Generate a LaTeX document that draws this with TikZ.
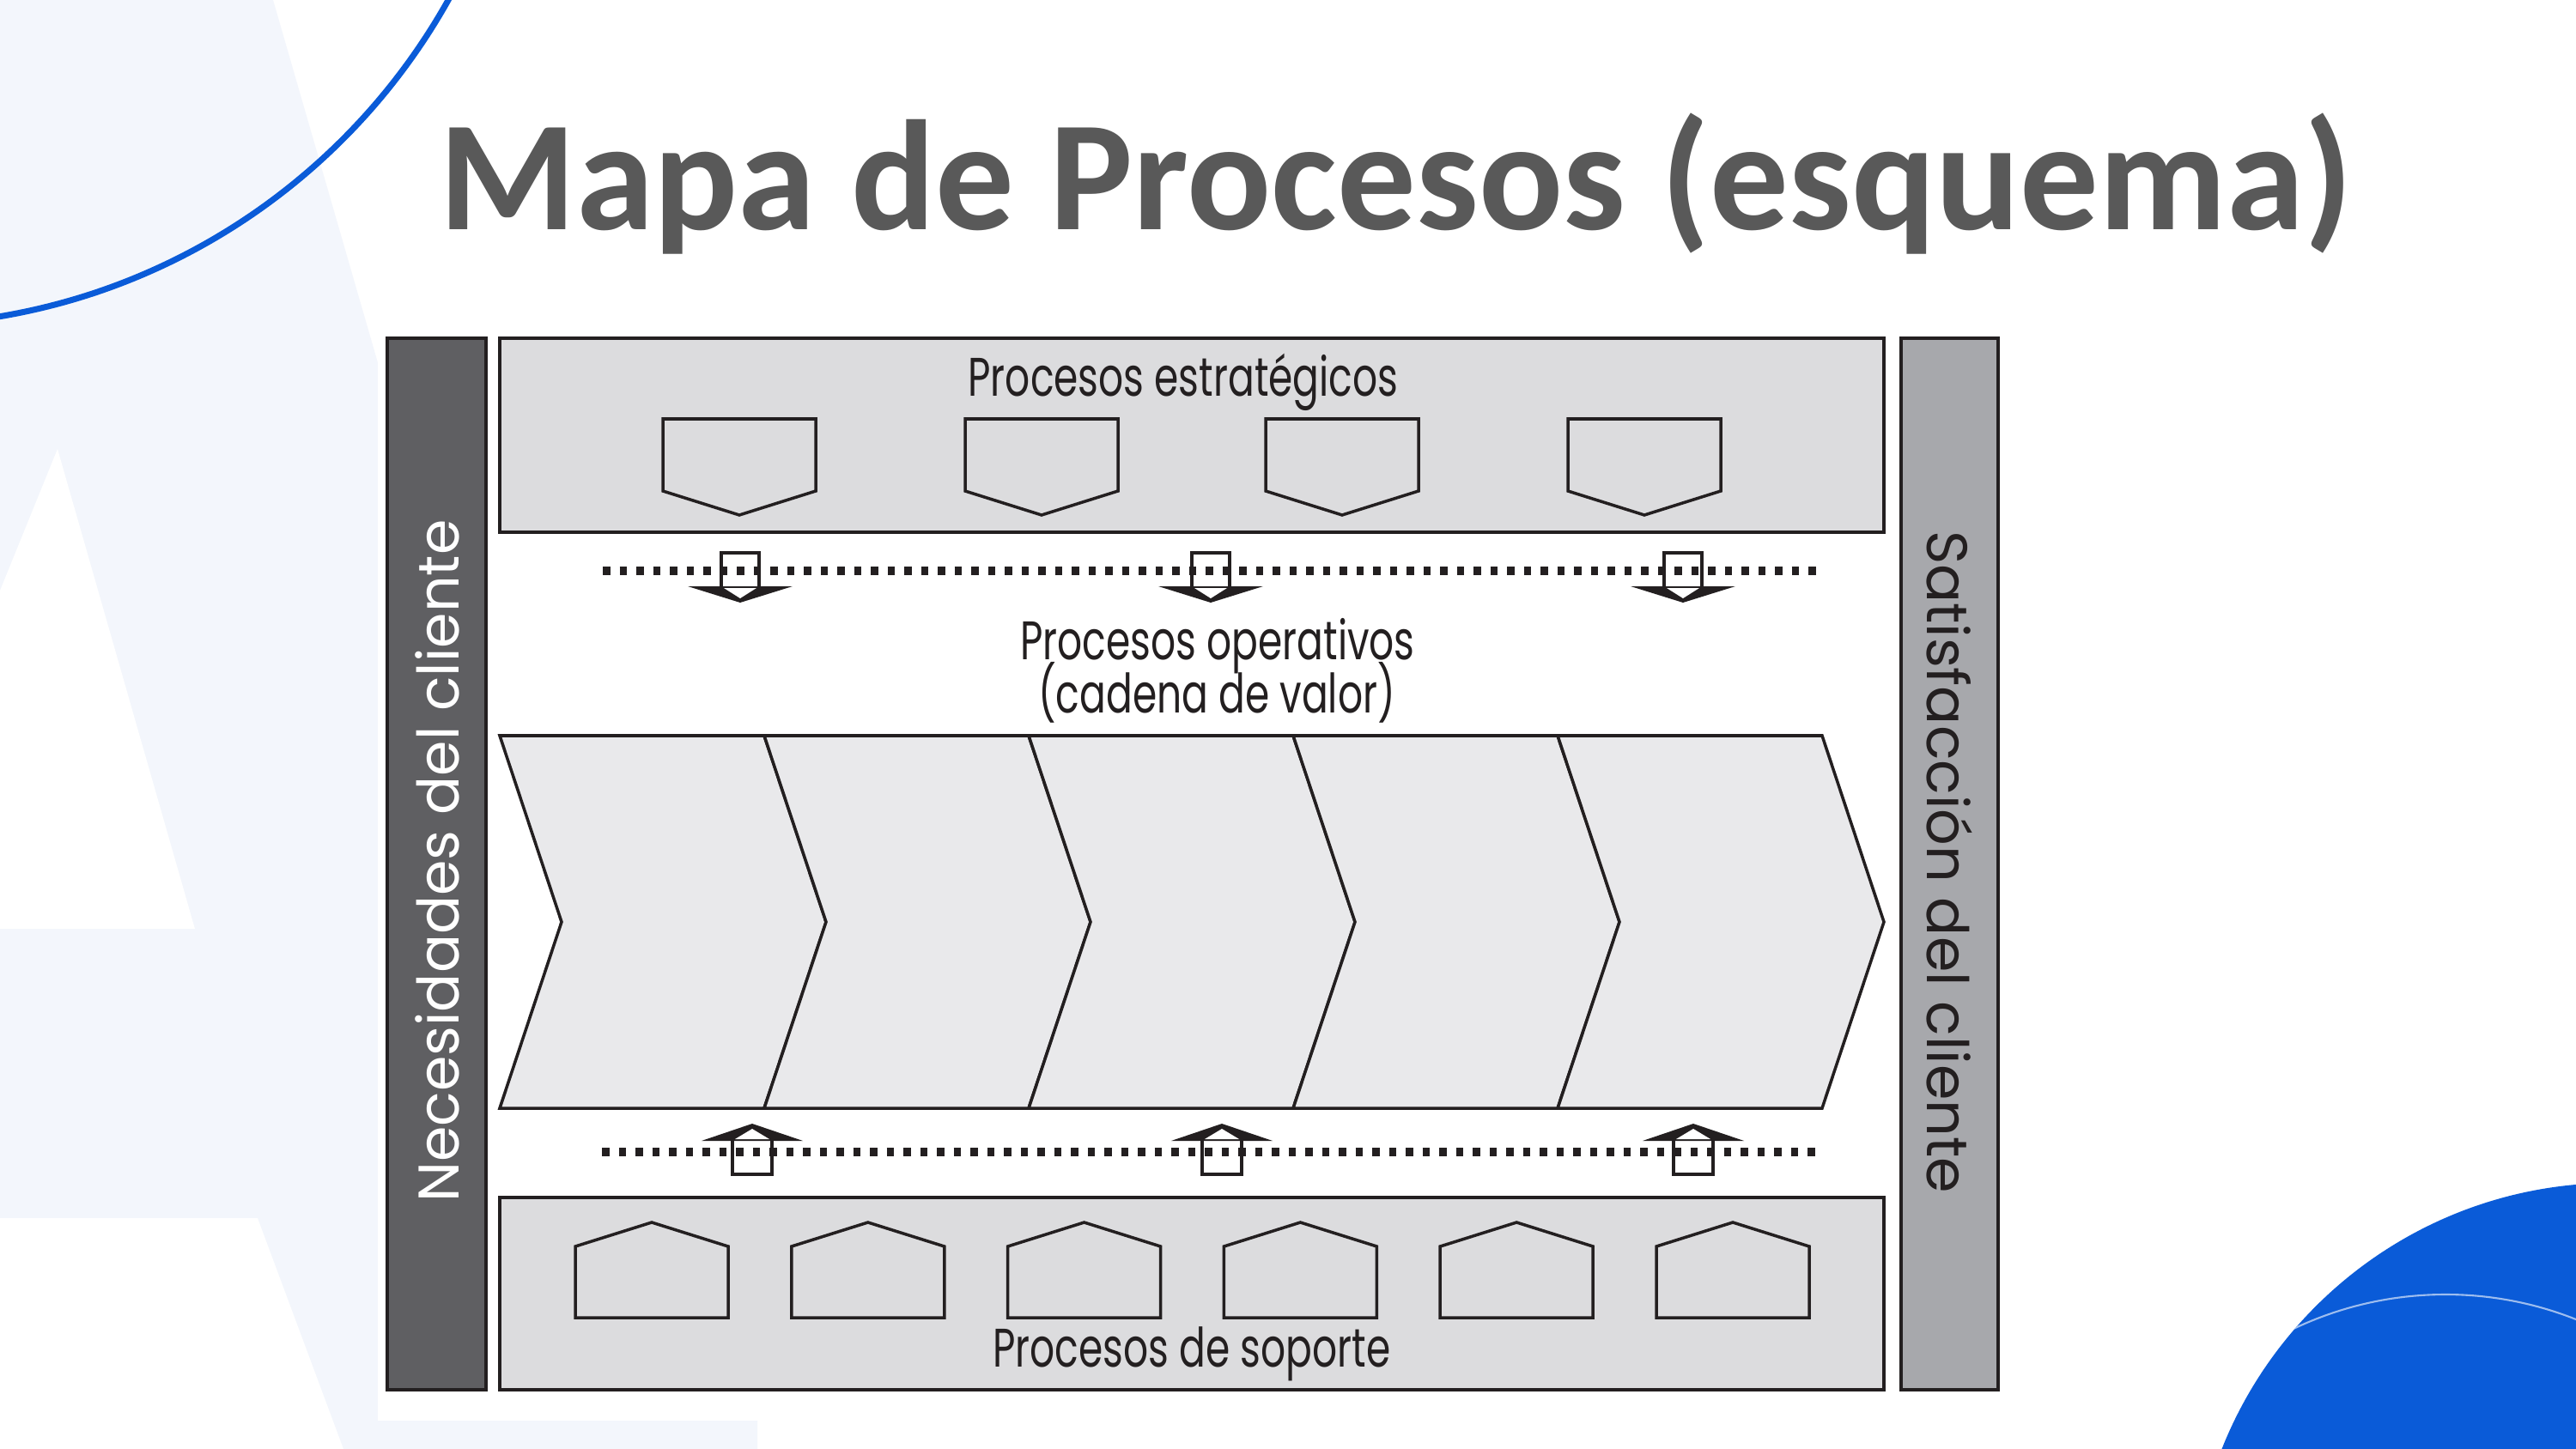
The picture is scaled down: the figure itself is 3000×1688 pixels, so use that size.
\documentclass[tikz,border=0pt]{standalone}
\usepackage{fontspec}
\setmainfont{PT Sans}
\newfontfamily\titlefont{Carlito}
\newfontfamily\gothicfont{Poppins}
\newfontfamily\condfont[FakeStretch=0.72]{Poppins}
\usetikzlibrary{positioning}
\definecolor{slideblue}{HTML}{0A5BD8}
\definecolor{wmblue}{HTML}{F3F6FC}
\definecolor{titlegray}{HTML}{595959}
\definecolor{bardark}{HTML}{5F5F62}
\definecolor{barlight}{HTML}{A7A8AC}
\definecolor{boxgray}{HTML}{DCDCDE}
\definecolor{chevgray}{HTML}{E9E9EB}
\definecolor{inkgray}{HTML}{231F20}

\begin{document}
\begin{tikzpicture}[x=0.1mm, y=-0.1mm,
  procbox/.style={draw=inkgray, fill=boxgray, line width=1.3pt},
  sidebar/.style={draw=inkgray, line width=1.3pt},
  pent/.style={draw=inkgray, fill=boxgray, line width=1pt, line join=miter},
  chev/.style={draw=inkgray, fill=chevgray, line width=1pt, line join=miter},
  dotline/.style={draw=inkgray, line width=1mm, dash pattern=on 0.85mm off 1.1mm},
  shaft/.style={draw=inkgray, line width=1pt, line join=miter},
  lbl/.style={anchor=base, inner sep=0pt, text=inkgray, font=\condfont\fontsize{18}{18}\selectfont},
  barlbl/.style={inner sep=0pt, font=\gothicfont\fontsize{19}{20}\selectfont}]
\useasboundingbox (0,0) rectangle (3000,1688);
\begin{scope}
\clip (0,0) rectangle (3000,1688);
\fill[white] (0,0) rectangle (3000,1688);
\fill[wmblue] (0,0) -- (318,0) -- (445,440) -- (445,1655) -- (882,1655) -- (882,1688) -- (0,1688) -- cycle;
\fill[white] (0,688) -- (67,523) -- (227,1082) -- (0,1082) -- cycle;
\fill[white] (0,1419) -- (300,1419) -- (400,1688) -- (0,1688) -- cycle;
\draw[slideblue, line width=2pt] (-124,-361) circle [radius=74mm];
\fill[slideblue] (3044,1869) circle [radius=49.1mm];
\begin{scope}
\clip (3044,1869) circle [radius=49.1mm];
\draw[white!60!slideblue, line width=0.6pt] (2848,1919) circle [radius=41.1mm];
\end{scope}
\end{scope}

\node[anchor=base, inner sep=0pt, text=titlegray, font=\titlefont\bfseries\fontsize{52}{60}\selectfont] (titulo) at (1626,268) {Mapa de Procesos (esquema)};

\fill[white] (440,380) rectangle (2345,1655);
\draw[sidebar, fill=bardark] (451,394) rectangle (566,1619);
\draw[sidebar, fill=barlight] (2214,394) rectangle (2327,1619);
\node[barlbl, rotate=90, text=white] (necesidades) at (509,1003) {Necesidades del cliente};
\node[barlbl, rotate=-90, text=inkgray] (satisfaccion) at (2271,1004) {Satisfacción del cliente};

\draw[procbox] (582,394) rectangle (2194,620);
\draw[procbox] (582,1395) rectangle (2194,1619);
\node[lbl] (estrategicos) at (1378,462) {Procesos estratégicos};
\node[lbl] (soporte) at (1388,1592) {Procesos de soporte};
\node[lbl] (operativos) at (1418,768) {Procesos operativos};
\node[lbl] (cadena) at (1417,830) {(cadena de valor)};

\foreach \cx in {861,1213,1563,1915}
  \draw[pent] (\cx-89,488) -- (\cx+89,488) -- (\cx+89,572) -- (\cx,600) -- (\cx-89,572) -- cycle;
\foreach \i in {0,...,5}
  \draw[pent] (670+251.8*\i,1535) -- (848+251.8*\i,1535) -- (848+251.8*\i,1452) -- (759+251.8*\i,1424) -- (670+251.8*\i,1452) -- cycle;

\foreach \i in {0,...,4}
  \draw[chev] (582+308*\i,857) -- (890+308*\i,857) -- (962+308*\i,1074) -- (890+308*\i,1291) -- (582+308*\i,1291) -- (654+308*\i,1074) -- cycle;

\draw[dotline] (702,665) -- (2120,665);
\draw[dotline] (701,1342) -- (2120,1342);
\foreach \cx in {862,1410,1960} {
  \fill[inkgray] (\cx-61,683) -- (\cx+61,683) -- (\cx,702) -- cycle;
  \fill[white] (\cx-19,685) -- (\cx+19,685) -- (\cx,697) -- cycle;
  \draw[shaft] (\cx-22,686) -- (\cx-22,644) -- (\cx+22,644) -- (\cx+22,686);
}
\foreach \cx in {876,1423,1972} {
  \fill[inkgray] (\cx-59,1329) -- (\cx+59,1329) -- (\cx,1309) -- cycle;
  \fill[white] (\cx-20,1327) -- (\cx+20,1327) -- (\cx,1315) -- cycle;
  \draw[shaft] (\cx-23,1326) -- (\cx-23,1368) -- (\cx+23,1368) -- (\cx+23,1326);
}
\end{tikzpicture}
\end{document}
